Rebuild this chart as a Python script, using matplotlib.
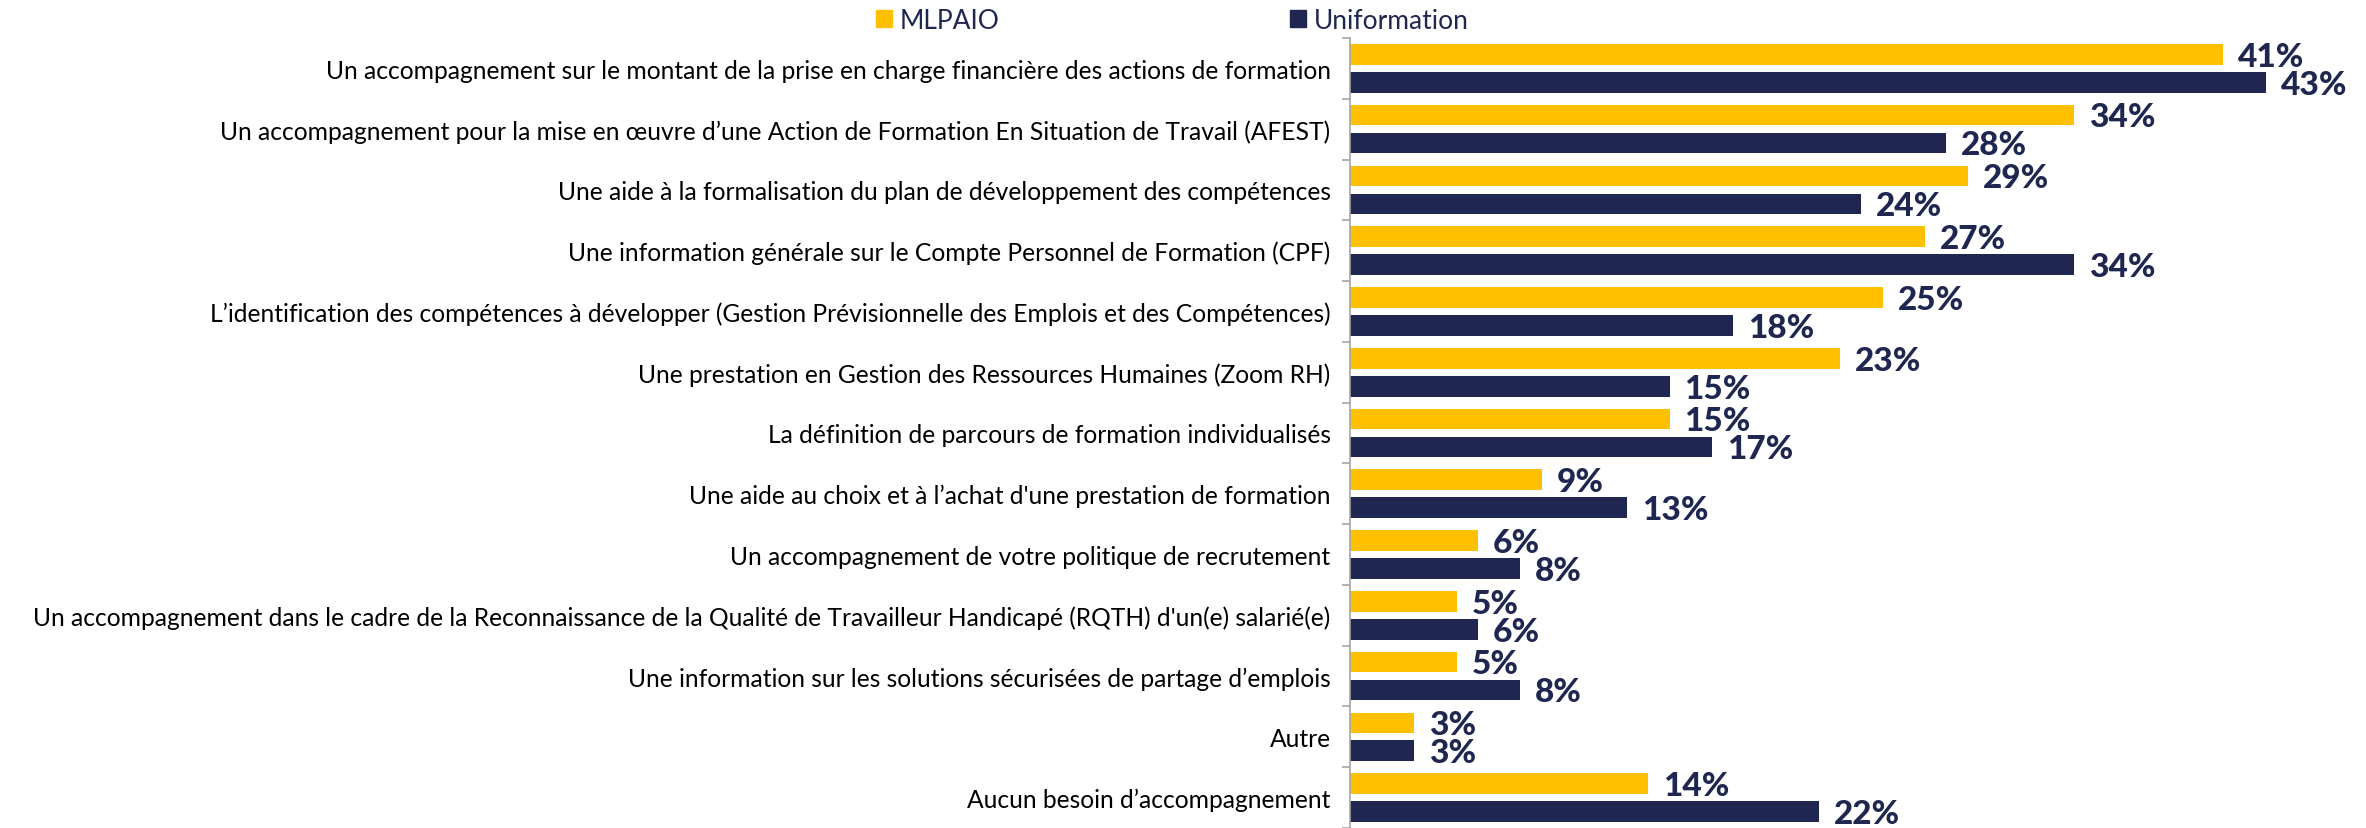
import numpy as np
import matplotlib
matplotlib.use("Agg")
from matplotlib import pyplot as plt
from matplotlib.patches import Patch

plt.rcParams["font.family"] = ["Lato", "DejaVu Sans"]

# survey answers, top to bottom
categories = [
    "Un accompagnement sur le montant de la prise en charge financière des actions de formation",
    "Un accompagnement pour la mise en œuvre d’une Action de Formation En Situation de Travail (AFEST)",
    "Une aide à la formalisation du plan de développement des compétences",
    "Une information générale sur le Compte Personnel de Formation (CPF)",
    "L’identification des compétences à développer (Gestion Prévisionnelle des Emplois et des Compétences)",
    "Une prestation en Gestion des Ressources Humaines (Zoom RH)",
    "La définition de parcours de formation individualisés",
    "Une aide au choix et à l’achat d'une prestation de formation",
    "Un accompagnement de votre politique de recrutement",
    "Un accompagnement dans le cadre de la Reconnaissance de la Qualité de Travailleur Handicapé (RQTH) d'un(e) salarié(e)",
    "Une information sur les solutions sécurisées de partage d’emplois",
    "Autre",
    "Aucun besoin d’accompagnement",
]
mlpaio = [41, 34, 29, 27, 25, 23, 15, 9, 6, 5, 5, 3, 14]
uniformation = [43, 28, 24, 34, 18, 15, 17, 13, 8, 6, 8, 3, 22]

yellow = "#FFC000"
navy = "#1F2750"

fig = plt.figure(figsize=(23.66, 8.29), dpi=100)
ax = fig.add_axes([0.5706, 0.0, 0.4294, 0.953])

n = len(categories)
y = np.arange(n)
h = 0.34
ax.barh(y - 0.23, mlpaio, height=h, color=yellow)
ax.barh(y + 0.23, uniformation, height=h, color=navy)

for yi, a, b in zip(y, mlpaio, uniformation):
    ax.text(a + 0.7, yi - 0.2, f"{a}%", va="center", ha="left",
            fontsize=24, fontweight="black", color=navy)
    ax.text(b + 0.7, yi + 0.26, f"{b}%", va="center", ha="left",
            fontsize=24, fontweight="black", color=navy)

ax.set_xlim(0, 47.7)
ax.set_ylim(n - 0.5, -0.5)
ax.set_yticks(y)
ax.set_yticklabels(categories, fontsize=17.7)
ax.tick_params(axis="y", which="major", length=0, pad=14)
ax.set_yticks(np.arange(n + 1) - 0.5, minor=True)
ax.tick_params(axis="y", which="minor", length=6, color="#A6A6A6", width=1.2)
ax.set_xticks([])
for side in ["top", "right", "bottom"]:
    ax.spines[side].set_visible(False)
ax.spines["left"].set_color("#A6A6A6")
ax.spines["left"].set_linewidth(1.2)

handles = [Patch(color=yellow, label="MLPAIO"), Patch(color=navy, label="Uniformation")]
fig.legend(handles=handles, loc="upper center", bbox_to_anchor=(0.4955, 1.018), ncol=2,
           frameon=False, fontsize=19, labelcolor=navy, handlelength=0.6, handleheight=0.6,
           handletextpad=0.3, columnspacing=11)

fig.savefig("out.png", dpi=100)
